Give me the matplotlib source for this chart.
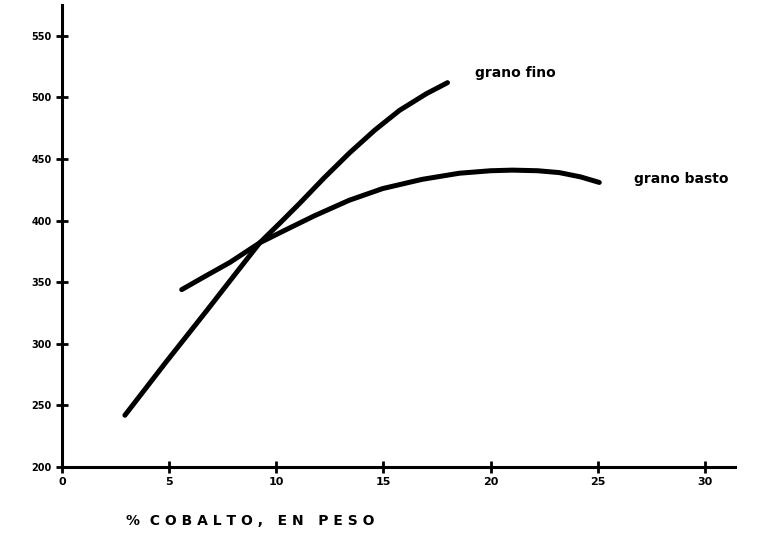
import matplotlib
matplotlib.use("Agg")
import matplotlib.pyplot as plt

# Data
fino_x = [2.94, 4.85, 6.76, 8.06, 9.23, 10.2, 11.09, 12.25, 13.42, 14.6, 15.75, 17.0, 17.99]
fino_y = [242, 285, 327, 356, 382, 398.5, 414, 435, 455, 473.5, 489.5, 503, 512]

basto_x = [5.59, 6.7, 7.83, 9.23, 10.5, 11.79, 13.4, 14.96, 16.8, 18.55, 20.0, 21.02, 22.2, 23.2, 24.2, 25.07]
basto_y = [344, 355, 366, 382, 393, 404, 416.5, 426, 433.5, 438.5, 440.5, 441, 440.5, 439, 435.5, 431]

x_ticks = [0, 5, 10, 15, 20, 25, 30]
x_ticklabels = ["0", "5", "10", "15", "20", "25", "30"]
y_ticks = [200, 250, 300, 350, 400, 450, 500, 550]
y_ticklabels = ["200", "250", "300", "350", "400", "450", "500", "550"]

fig = plt.figure(figsize=(7.64, 5.39), dpi=100)
ax = fig.add_axes([0.081, 0.1336, 0.881, 0.857])

ax.plot(fino_x, fino_y, color="black", lw=3.6, solid_capstyle="round", solid_joinstyle="round")
ax.plot(basto_x, basto_y, color="black", lw=3.6, solid_capstyle="round", solid_joinstyle="round")

ax.set_xlim(0, 31.4)
ax.set_ylim(200, 575)
ax.set_xticks(x_ticks)
ax.set_xticklabels(x_ticklabels, fontweight="bold", fontsize=8)
ax.set_yticks(y_ticks)
ax.set_yticklabels(y_ticklabels, fontweight="bold", fontsize=7)

for s in ["top", "right"]:
    ax.spines[s].set_visible(False)
for s in ["left", "bottom"]:
    ax.spines[s].set_linewidth(2.2)

ax.tick_params(axis="both", direction="inout", length=9, width=2, pad=3)

ax.text(19.25, 520, "grano fino", fontweight="bold", fontsize=10, va="center", ha="left")
ax.text(26.7, 434, "grano basto", fontweight="bold", fontsize=10, va="center", ha="left")

fig.text(0.327, 0.033, "%  C O B A L T O ,   E N   P E S O", fontweight="bold",
         fontsize=10, ha="center", va="center")

fig.savefig("out.png", dpi=100, facecolor="white")
